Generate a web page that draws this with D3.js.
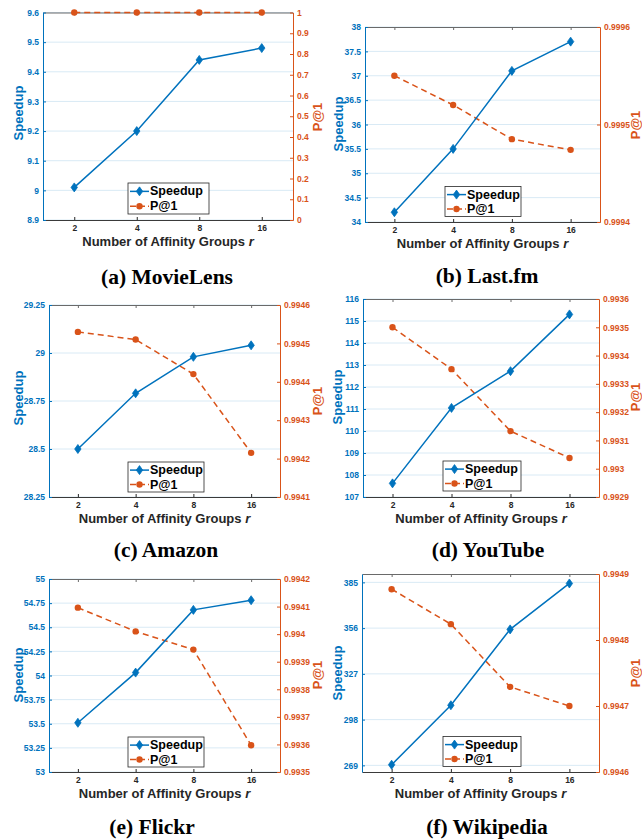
<!DOCTYPE html>
<html><head><meta charset="utf-8">
<script src="https://cdn.jsdelivr.net/npm/d3@7"></script>
<style>body{margin:0;background:#fff} svg{display:block}</style>
</head><body>
<svg id="chart" width="642" height="839"></svg>
<script>
// ---------- data ----------
const groups = ["2", "4", "8", "16"];

const speedupMovieLens = [9.01, 9.2, 9.44, 9.48];
const p1MovieLens = [1, 1, 1, 1];
const speedupLastfm = [34.2, 35.5, 37.1, 37.7];
const p1Lastfm = [0.99955, 0.99952, 0.999485, 0.999474];
const speedupAmazon = [28.5, 28.79, 28.98, 29.04];
const p1Amazon = [0.99453, 0.99451, 0.99442, 0.994215];
const speedupYouTube = [107.62, 111.05, 112.72, 115.3];
const p1YouTube = [0.9935, 0.993352, 0.993133, 0.993038];
const speedupFlickr = [53.51, 54.03, 54.68, 54.78];
const p1Flickr = [0.994096, 0.99401, 0.993944, 0.993597];
const speedupWikipedia = [269.4, 307.1, 355.2, 384.3];
const p1Wikipedia = [0.994877, 0.994824, 0.994729, 0.9947];

const leftTicksMovieLens = [8.9, 9, 9.1, 9.2, 9.3, 9.4, 9.5, 9.6];
const rightTicksMovieLens = [0, 0.1, 0.2, 0.3, 0.4, 0.5, 0.6, 0.7, 0.8, 0.9, 1];
const leftTicksLastfm = [34, 34.5, 35, 35.5, 36, 36.5, 37, 37.5, 38];
const rightTicksLastfm = [0.9994, 0.9995, 0.9996];
const leftTicksAmazon = [28.25, 28.5, 28.75, 29, 29.25];
const rightTicksAmazon = [0.9941, 0.9942, 0.9943, 0.9944, 0.9945, 0.9946];
const leftTicksYouTube = [107, 108, 109, 110, 111, 112, 113, 114, 115, 116];
const rightTicksYouTube = [0.9929, 0.993, 0.9931, 0.9932, 0.9933, 0.9934, 0.9935, 0.9936];
const leftTicksFlickr = [53, 53.25, 53.5, 53.75, 54, 54.25, 54.5, 54.75, 55];
const rightTicksFlickr = [0.9935, 0.9936, 0.9937, 0.9938, 0.9939, 0.994, 0.9941, 0.9942];
const leftTicksWikipedia = [269, 298, 327, 356, 385];
const leftLimitsWikipedia = [264.8, 390.3];
const rightTicksWikipedia = [0.9946, 0.9947, 0.9948, 0.9949];

const seriesNames = ["Speedup", "P@1"];
const xTitle = "Number of Affinity Groups ";
const xTitleVar = "r";

const panels = [
  { caption: "(a) MovieLens", speedup: speedupMovieLens, p1: p1MovieLens, lTicks: leftTicksMovieLens, rTicks: rightTicksMovieLens },
  { caption: "(b) Last.fm", speedup: speedupLastfm, p1: p1Lastfm, lTicks: leftTicksLastfm, rTicks: rightTicksLastfm },
  { caption: "(c) Amazon", speedup: speedupAmazon, p1: p1Amazon, lTicks: leftTicksAmazon, rTicks: rightTicksAmazon },
  { caption: "(d) YouTube", speedup: speedupYouTube, p1: p1YouTube, lTicks: leftTicksYouTube, rTicks: rightTicksYouTube },
  { caption: "(e) Flickr", speedup: speedupFlickr, p1: p1Flickr, lTicks: leftTicksFlickr, rTicks: rightTicksFlickr },
  { caption: "(f) Wikipedia", speedup: speedupWikipedia, p1: p1Wikipedia, lTicks: leftTicksWikipedia, rTicks: rightTicksWikipedia, lLimits: leftLimitsWikipedia }
];

// ---------- layout (positions only) ----------
const layout = [
  { box: [43, 12.5, 293, 220], legend: [128, 183, 81, 31], yl: [18, 113], yr: [317, 117], cap: [167, 284] },
  { box: [365, 27, 600, 222], legend: [445, 186.5, 76, 30], yl: [338, 124], yr: [635, 125], cap: [487, 283] },
  { box: [49, 305, 280, 497], legend: [128, 462, 76, 30], yl: [18, 398], yr: [317, 401], cap: [166, 557] },
  { box: [363, 299, 599, 497], legend: [443, 461, 78, 30], yl: [337, 397], yr: [635, 397], cap: [488, 557] },
  { box: [49, 579, 280, 772], legend: [128, 737, 76, 30], yl: [18, 675], yr: [317, 675], cap: [152, 834] },
  { box: [362, 574, 599, 772], legend: [443, 736.5, 78, 30], yl: [337, 673], yr: [635, 673], cap: [487, 834] }
];

const BLUE = "#0072BD", ORANGE = "#D95319", GRID = "#d9eaf5", DARK = "#262626";
const SANS = "'Liberation Sans', Arial, Helvetica, sans-serif";
const SERIF = "'Liberation Serif', 'Times New Roman', serif";

const svg = d3.select("#chart");

const diamond = (cx, cy) => `M${cx},${cy - 4.5}L${cx + 3.2},${cy}L${cx},${cy + 4.5}L${cx - 3.2},${cy}Z`;

panels.forEach((p, k) => {
  const L = layout[k];
  const [x0, y0, x1, y1] = L.box;
  const g = svg.append("g");

  const x = d3.scalePoint().domain(groups).range([x0, x1]).padding(0.5);
  const lDom = p.lLimits || [p.lTicks[0], p.lTicks[p.lTicks.length - 1]];
  const yL = d3.scaleLinear().domain(lDom).range([y1, y0]);
  const yR = d3.scaleLinear().domain([p.rTicks[0], p.rTicks[p.rTicks.length - 1]]).range([y1, y0]);

  // grid
  g.append("g").selectAll("line").data(p.lTicks).join("line")
    .attr("x1", x0).attr("x2", x1)
    .attr("y1", d => yL(d)).attr("y2", d => yL(d))
    .attr("stroke", GRID).attr("stroke-width", 1);

  const styleAxis = (sel, color, size) => {
    sel.selectAll("text").attr("fill", color).style("font-family", SANS)
      .style("font-weight", "bold").style("font-size", size + "px");
    sel.selectAll("line").attr("stroke", color);
    sel.select(".domain").attr("stroke", color).attr("stroke-width", 1);
  };

  // top axis (box)
  const gt = g.append("g").attr("transform", `translate(0,${y0})`)
    .call(d3.axisTop(x).tickSize(-3).tickSizeOuter(0).tickFormat(""));
  styleAxis(gt, "#6a6a6a", 8.5);

  // bottom axis
  const gb = g.append("g").attr("transform", `translate(0,${y1})`)
    .call(d3.axisBottom(x).tickSize(-3).tickSizeOuter(0).tickPadding(5));
  styleAxis(gb, DARK, 8.5);
  gb.select(".domain").attr("stroke", "#3a3a3a");

  // left axis
  const gl = g.append("g").attr("transform", `translate(${x0},0)`)
    .call(d3.axisLeft(yL).tickValues(p.lTicks).tickSize(-3).tickSizeOuter(0).tickPadding(4).tickFormat(d => String(d)));
  styleAxis(gl, BLUE, 8.5);

  // right axis
  const gr = g.append("g").attr("transform", `translate(${x1},0)`)
    .call(d3.axisRight(yR).tickValues(p.rTicks).tickSize(-3).tickSizeOuter(0).tickPadding(4).tickFormat(d => String(d)));
  styleAxis(gr, ORANGE, 8.5);

  // lines
  const lineL = d3.line().x((d, i) => x(groups[i])).y(d => yL(d));
  const lineR = d3.line().x((d, i) => x(groups[i])).y(d => yR(d));

  g.append("path").datum(p.p1).attr("d", lineR).attr("fill", "none")
    .attr("stroke", ORANGE).attr("stroke-width", 1.5).attr("stroke-dasharray", "6,4");
  g.append("g").selectAll("circle").data(p.p1).join("circle")
    .attr("cx", (d, i) => x(groups[i])).attr("cy", d => yR(d)).attr("r", 3.2)
    .attr("fill", ORANGE);

  g.append("path").datum(p.speedup).attr("d", lineL).attr("fill", "none")
    .attr("stroke", BLUE).attr("stroke-width", 1.5);
  g.append("g").selectAll("path").data(p.speedup).join("path")
    .attr("d", (d, i) => diamond(x(groups[i]), yL(d)))
    .attr("fill", BLUE).attr("stroke", BLUE).attr("stroke-width", 0.8);

  // axis titles
  g.append("text").attr("transform", `translate(${L.yl[0]},${L.yl[1]}) rotate(-90)`)
    .attr("text-anchor", "middle").attr("dominant-baseline", "central")
    .style("font-family", SANS).style("font-weight", "bold").style("font-size", "13px")
    .attr("fill", BLUE).text(seriesNames[0]);
  g.append("text").attr("transform", `translate(${L.yr[0]},${L.yr[1]}) rotate(-90)`)
    .attr("text-anchor", "middle").attr("dominant-baseline", "central")
    .style("font-family", SANS).style("font-weight", "bold").style("font-size", "13px")
    .attr("fill", ORANGE).text(seriesNames[1]);

  const xt = g.append("text").attr("x", (x0 + x1) / 2).attr("y", y1 + 26)
    .attr("text-anchor", "middle")
    .style("font-family", SANS).style("font-weight", "bold").style("font-size", "13px")
    .attr("fill", DARK);
  xt.append("tspan").text(xTitle);
  xt.append("tspan").style("font-style", "italic").text(xTitleVar);

  // legend
  const [lx, ly, lw, lh] = L.legend;
  const lg = g.append("g");
  lg.append("rect").attr("x", lx).attr("y", ly).attr("width", lw).attr("height", lh)
    .attr("fill", "#fff").attr("stroke", DARK).attr("stroke-width", 0.8);
  const rowY = [ly + lh * 0.27, ly + lh * 0.75];
  lg.append("line").attr("x1", lx + 2).attr("x2", lx + 21).attr("y1", rowY[0]).attr("y2", rowY[0])
    .attr("stroke", BLUE).attr("stroke-width", 1.5);
  lg.append("path").attr("d", diamond(lx + 11.5, rowY[0])).attr("fill", BLUE).attr("stroke", BLUE).attr("stroke-width", 0.8);
  lg.append("line").attr("x1", lx + 2).attr("x2", lx + 21).attr("y1", rowY[1]).attr("y2", rowY[1])
    .attr("stroke", ORANGE).attr("stroke-width", 1.5).attr("stroke-dasharray", "6,3");
  lg.append("circle").attr("cx", lx + 11.5).attr("cy", rowY[1]).attr("r", 3.2).attr("fill", ORANGE);
  seriesNames.forEach((s, i) => {
    lg.append("text").attr("x", lx + 22).attr("y", rowY[i]).attr("dominant-baseline", "central")
      .style("font-family", SANS).style("font-weight", "bold").style("font-size", "12.5px")
      .attr("fill", "#000").text(s);
  });

  // caption
  g.append("text").attr("x", L.cap[0]).attr("y", L.cap[1]).attr("text-anchor", "middle")
    .style("font-family", SERIF).style("font-weight", "bold").style("font-size", "21.5px")
    .attr("fill", "#000").text(p.caption);
});
</script>
</body></html>
